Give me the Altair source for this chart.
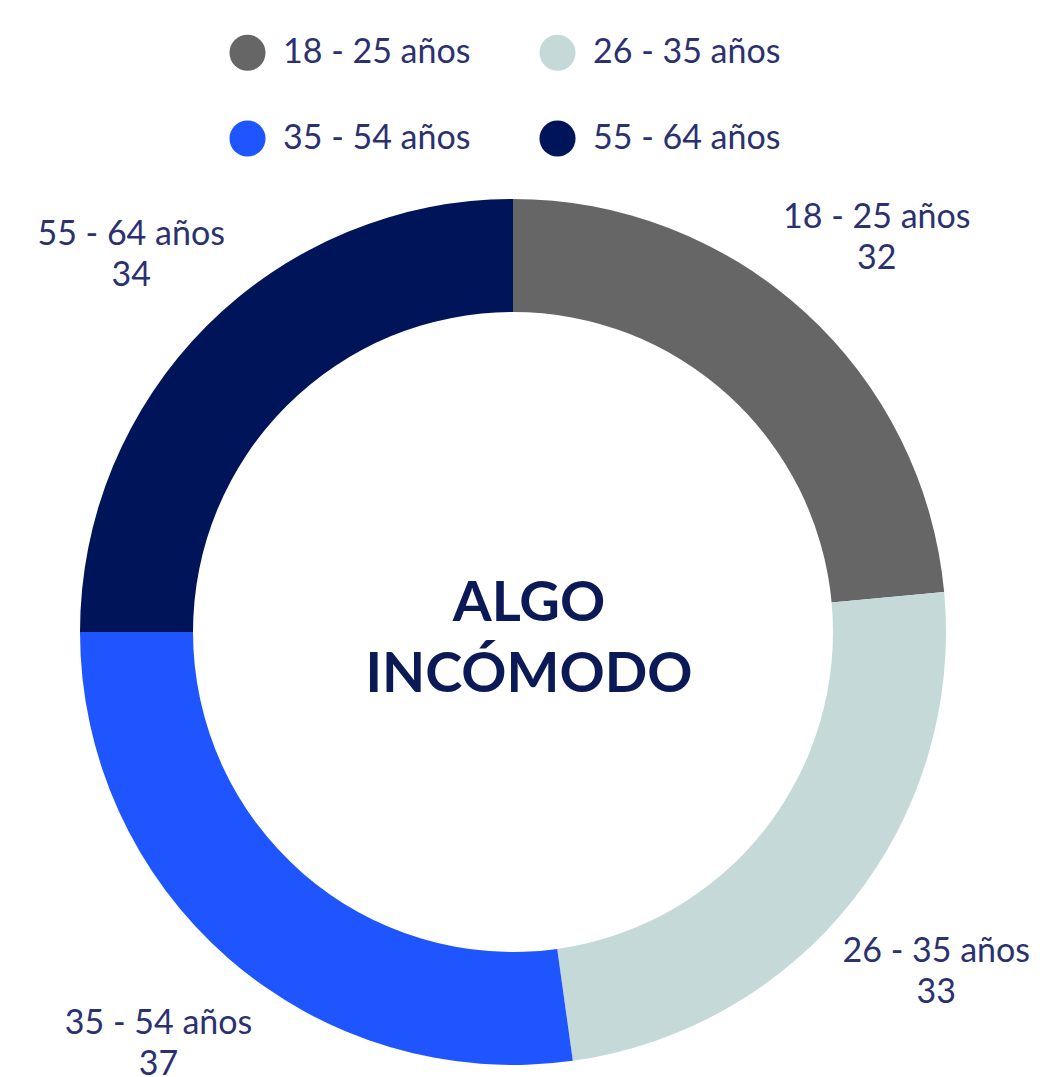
import altair as alt
import pandas as pd

categories = ["18 - 25 años", "26 - 35 años", "35 - 54 años", "55 - 64 años"]
values = [32, 33, 37, 34]
colors = ["#666666", "#c6d9d9", "#1f55ff", "#00145a"]
center_lines = ["ALGO", "INCÓMODO"]

df = pd.DataFrame({
    "grupo": categories,
    "valor": values,
    "orden": list(range(len(categories))),
    "etiqueta": [c + "\n" + str(v) for c, v in zip(categories, values)],
})

CX, CY = 505, 624
LABEL_COLOR = "#2b3170"
CENTER_COLOR = "#0c1957"

base = alt.Chart(df).encode(
    theta=alt.Theta("valor:Q", stack=True),
    order=alt.Order("orden:Q", sort="ascending"),
)

arc = base.mark_arc(innerRadius=320, outerRadius=433).encode(
    x=alt.value(CX),
    y=alt.value(CY),
    color=alt.Color(
        "grupo:N",
        scale=alt.Scale(domain=categories, range=colors),
        legend=alt.Legend(
            title=None,
            orient="none",
            direction="horizontal",
            legendX=221,
            legendY=26,
            columns=2,
            symbolType="circle",
            symbolSize=1300,
            symbolStrokeWidth=0,
            labelFont="Lato",
            labelFontSize=34,
            labelColor=LABEL_COLOR,
            labelOffset=17,
            columnPadding=68,
            rowPadding=49,
            labelLimit=400,
        ),
    ),
)

labels = base.mark_text(
    radius=540,
    font="Lato",
    fontSize=34,
    color=LABEL_COLOR,
    lineBreak="\n",
    lineHeight=41,
    align="center",
    baseline="middle",
    dy=-15,
).encode(
    x=alt.value(CX),
    y=alt.value(CY),
    text="etiqueta:N",
)

center = alt.Chart(pd.DataFrame({"k": [0]})).mark_text(
    font="Lato",
    fontWeight="bold",
    fontSize=56,
    color=CENTER_COLOR,
    lineHeight=71,
    align="center",
    baseline="alphabetic",
).encode(
    x=alt.value(CX + 16),
    y=alt.value(613),
    text=alt.value(center_lines),
)

chart = alt.layer(arc, labels, center).properties(
    width=1024,
    height=1069,
    autosize=alt.AutoSizeParams(type="none"),
    padding=0,
).configure_view(stroke=None)

chart.save("out.html", embed_options={"renderer": "svg", "actions": False})
